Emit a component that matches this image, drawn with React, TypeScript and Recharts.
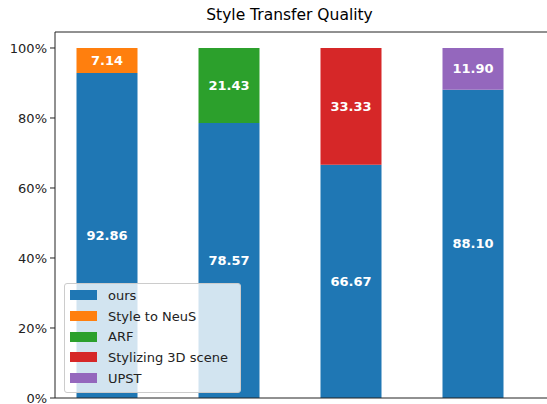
import { BarChart, Bar, XAxis, YAxis, LabelList, ReferenceLine } from "recharts";

const categories = ["1", "2", "3", "4"];
const ours = [92.86, 78.57, 66.67, 88.1];
const styleToNeus = [7.14, null, null, null];
const arf = [null, 21.43, null, null];
const stylizing3d = [null, null, 33.33, null];
const upst = [null, null, null, 11.9];
const yTicks = [0, 20, 40, 60, 80, 100];

const series = [
  { key: "ours", name: "ours", color: "#1f77b4", values: ours },
  { key: "neus", name: "Style to NeuS", color: "#ff7f0e", values: styleToNeus },
  { key: "arf", name: "ARF", color: "#2ca02c", values: arf },
  { key: "s3d", name: "Stylizing 3D scene", color: "#d62728", values: stylizing3d },
  { key: "upst", name: "UPST", color: "#9467bd", values: upst },
];

const data = categories.map((c, i) => {
  const row: Record<string, string | number | null> = { cat: c };
  series.forEach((s) => {
    row[s.key] = s.values[i];
  });
  return row;
});

const font = "'DejaVu Sans', sans-serif";
const fmt = (v: any) => (v == null ? "" : Number(v).toFixed(2));

export default function App() {
  return (
    <div
      style={{
        position: "absolute",
        left: 0,
        top: 0,
        width: 547,
        height: 404,
        overflow: "hidden",
        background: "#fff",
        fontFamily: font,
      }}
    >
      <div
        style={{
          position: "absolute",
          top: 8,
          left: 189.5,
          width: 200,
          textAlign: "center",
          fontSize: 15.5,
          lineHeight: "15.5px",
          color: "#000",
          whiteSpace: "nowrap",
        }}
      >
        Style Transfer Quality
      </div>
      <BarChart
        width={560}
        height={404}
        data={data}
        margin={{ top: 32, right: 0, bottom: 0, left: 0 }}
        barCategoryGap="25%"
        style={{ fontFamily: font, overflow: "visible" }}
      >
        <XAxis
          dataKey="cat"
          tick={false}
          tickLine={false}
          height={6}
          padding={{ left: -9, right: 26 }}
          axisLine={{ stroke: "#222" }}
        />
        <YAxis
          width={55}
          domain={[0, 104.57]}
          ticks={yTicks}
          interval={0}
          allowDataOverflow
          tickFormatter={(v) => `${v}%`}
          tickSize={5}
          tickMargin={3}
          tick={{ fill: "#222", fontSize: 13, fontFamily: font }}
          tickLine={{ stroke: "#222" }}
          axisLine={{ stroke: "#222" }}
        />
        <ReferenceLine y={104.57} stroke="#222" ifOverflow="visible" />
        {series.map((s) => (
          <Bar
            key={s.key}
            dataKey={s.key}
            name={s.name}
            stackId="a"
            fill={s.color}
            isAnimationActive={false}
          >
            <LabelList
              dataKey={s.key}
              position="center"
              formatter={fmt}
              fill="#fff"
              fontWeight="bold"
              fontSize={13}
              fontFamily={font}
            />
          </Bar>
        ))}
      </BarChart>
      <div
        style={{
          position: "absolute",
          left: 64,
          top: 283,
          width: 175,
          height: 107,
          paddingTop: 1,
          boxSizing: "content-box",
          background: "rgba(255,255,255,0.8)",
          border: "1px solid #cccccc",
          borderRadius: 3,
        }}
      >
        {series.map((s) => (
          <div
            key={s.key}
            style={{
              display: "flex",
              alignItems: "center",
              height: 20.7,
              paddingLeft: 5,
              fontSize: 13,
              color: "#222",
              whiteSpace: "nowrap",
            }}
          >
            <span
              style={{
                display: "inline-block",
                width: 27,
                height: 10,
                background: s.color,
                marginRight: 11,
              }}
            />
            {s.name}
          </div>
        ))}
      </div>
    </div>
  );
}
